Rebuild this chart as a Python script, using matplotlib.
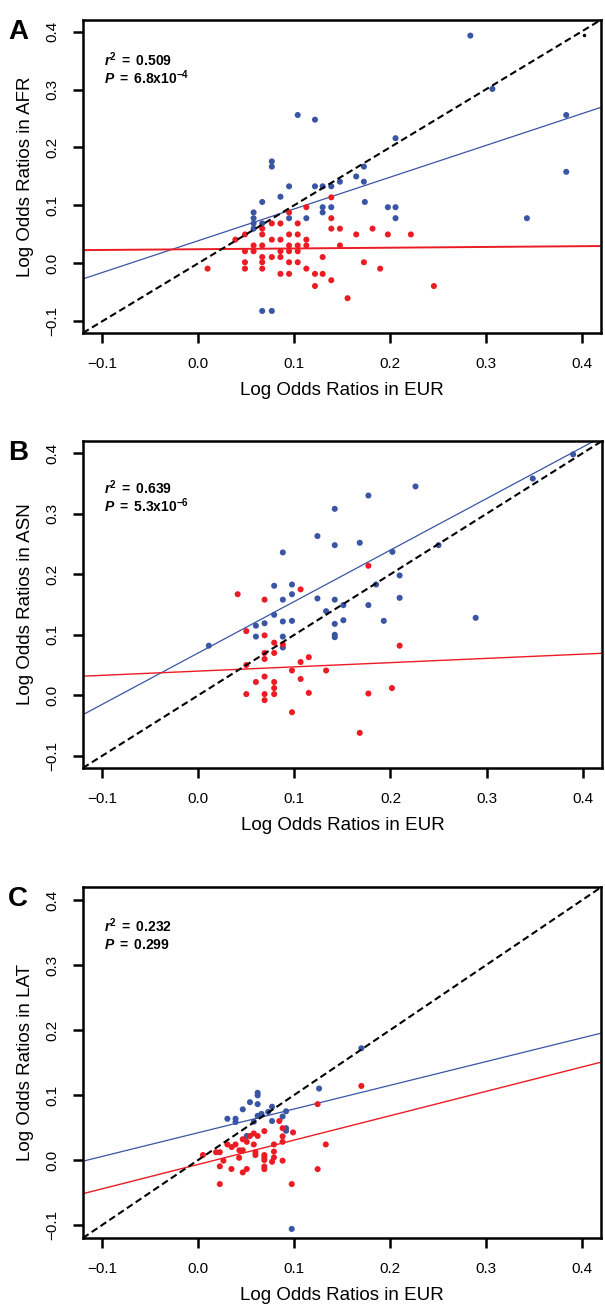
import matplotlib
matplotlib.use("Agg")
import matplotlib.pyplot as plt

plt.rcParams['font.family'] = ['Liberation Sans', 'DejaVu Sans']
plt.rcParams['mathtext.fontset'] = 'custom'
plt.rcParams['mathtext.rm'] = 'Liberation Sans'
plt.rcParams['mathtext.it'] = 'Liberation Sans:italic'
plt.rcParams['mathtext.bf'] = 'Liberation Sans:bold'
plt.rcParams['mathtext.bfit'] = 'Liberation Sans:italic:bold'

BLUE = '#3a55a4'
RED = '#ec1c24'

# ---- panel A : AFR vs EUR ----
a_blue_x = [0.104, 0.122, 0.206, 0.077, 0.077, 0.173, 0.165, 0.148, 0.173, 0.095, 0.122, 0.130,
            0.139, 0.086, 0.067, 0.174, 0.130, 0.139, 0.198, 0.206, 0.058, 0.130, 0.058, 0.095,
            0.113, 0.206, 0.058, 0.067, 0.058, 0.067, 0.077, 0.284, 0.307, 0.384, 0.384, 0.343]
a_blue_y = [0.256, 0.248, 0.216, 0.176, 0.167, 0.167, 0.150, 0.141, 0.141, 0.133, 0.133, 0.133,
            0.133, 0.115, 0.106, 0.106, 0.097, 0.097, 0.097, 0.097, 0.088, 0.088, 0.078, 0.078,
            0.078, 0.078, 0.069, 0.069, 0.060, -0.082, -0.082, 0.393, 0.301, 0.256, 0.158, 0.078]
a_red_x = [0.139, 0.113, 0.095, 0.139, 0.067, 0.077, 0.086, 0.104, 0.139, 0.148, 0.182, 0.049,
           0.067, 0.095, 0.104, 0.165, 0.198, 0.222, 0.039, 0.077, 0.086, 0.113, 0.058, 0.067,
           0.095, 0.104, 0.113, 0.148, 0.049, 0.058, 0.086, 0.095, 0.104, 0.067, 0.077, 0.086,
           0.130, 0.049, 0.067, 0.095, 0.104, 0.173, 0.010, 0.049, 0.067, 0.113, 0.190, 0.086,
           0.095, 0.122, 0.130, 0.139, 0.122, 0.156, 0.246]
a_red_y = [0.114, 0.097, 0.088, 0.078, 0.060, 0.069, 0.069, 0.069, 0.060, 0.060, 0.060, 0.050,
           0.050, 0.050, 0.050, 0.050, 0.050, 0.050, 0.041, 0.041, 0.041, 0.041, 0.031, 0.031,
           0.031, 0.031, 0.031, 0.031, 0.021, 0.021, 0.021, 0.021, 0.021, 0.011, 0.011, 0.011,
           0.011, 0.002, 0.002, 0.002, 0.002, 0.002, -0.009, -0.009, -0.009, -0.009, -0.009, -0.018,
           -0.018, -0.018, -0.018, -0.029, -0.039, -0.060, -0.039]
a_fit_blue = (0.039, 0.548)   # intercept, slope
a_fit_red = (0.0245, 0.013)

# ---- panel B : ASN vs EUR ----
b_blue_x = [0.226, 0.177, 0.142, 0.124, 0.142, 0.168, 0.088, 0.202, 0.250, 0.2095, 0.185, 0.079,
            0.0975, 0.0975, 0.088, 0.124, 0.142, 0.151, 0.133, 0.2095, 0.177, 0.079, 0.060, 0.069,
            0.088, 0.0975, 0.151, 0.193, 0.142, 0.142, 0.142, 0.060, 0.088, 0.088, 0.011, 0.390,
            0.348, 0.2886]
b_blue_y = [0.345, 0.330, 0.308, 0.263, 0.248, 0.252, 0.236, 0.237, 0.248, 0.198, 0.183, 0.181,
            0.183, 0.167, 0.158, 0.160, 0.158, 0.149, 0.139, 0.161, 0.149, 0.133, 0.115, 0.119,
            0.122, 0.123, 0.124, 0.123, 0.118, 0.100, 0.096, 0.097, 0.097, 0.079, 0.082, 0.398,
            0.358, 0.128]
b_red_x = [0.177, 0.1065, 0.041, 0.069, 0.050, 0.069, 0.079, 0.088, 0.2095, 0.069, 0.079, 0.069,
           0.050, 0.1065, 0.115, 0.0975, 0.133, 0.069, 0.1065, 0.060, 0.079, 0.079, 0.2015, 0.050,
           0.069, 0.079, 0.115, 0.177, 0.069, 0.0975, 0.168]
b_red_y = [0.214, 0.175, 0.167, 0.158, 0.106, 0.099, 0.087, 0.084, 0.082, 0.070, 0.070, 0.060,
           0.050, 0.055, 0.063, 0.041, 0.041, 0.031, 0.027, 0.022, 0.022, 0.012, 0.012, 0.002,
           0.002, 0.002, 0.004, 0.003, -0.008, -0.028, -0.062]
b_fit_blue = (0.070, 0.850)
b_fit_red = (0.040, 0.070)

# ---- panel C : LAT vs EUR ----
c_blue_x = [0.170, 0.126, 0.062, 0.062, 0.054, 0.062, 0.077, 0.0465, 0.073, 0.0916, 0.066, 0.062,
            0.088, 0.0305, 0.039, 0.039, 0.058, 0.077, 0.0916, 0.0916, 0.0507, 0.0975]
c_blue_y = [0.172, 0.110, 0.1035, 0.0995, 0.089, 0.086, 0.082, 0.078, 0.074, 0.075, 0.071, 0.068,
            0.067, 0.0635, 0.0635, 0.0585, 0.059, 0.060, 0.049, 0.045, 0.037, -0.106]
c_red_x = [0.170, 0.1245, 0.0846, 0.088, 0.0989, 0.069, 0.058, 0.062, 0.054, 0.0465, 0.0507, 0.088,
           0.0305, 0.035, 0.039, 0.058, 0.079, 0.088, 0.133, 0.043, 0.0465, 0.005, 0.0187, 0.0226,
           0.0597, 0.0597, 0.069, 0.069, 0.069, 0.079, 0.079, 0.0427, 0.0264, 0.088, 0.0226, 0.0347,
           0.0507, 0.0465, 0.069, 0.069, 0.077, 0.1245, 0.0226, 0.0975]
c_red_y = [0.114, 0.086, 0.060, 0.049, 0.0425, 0.0445, 0.041, 0.037, 0.037, 0.032, 0.028, 0.0365,
           0.024, 0.020, 0.024, 0.024, 0.024, 0.028, 0.024, 0.015, 0.015, 0.0077, 0.012, 0.012,
           0.012, 0.0077, 0.0077, 0.004, 0.0, 0.013, 0.004, 0.0035, -0.001, -0.001, -0.0097, -0.0138,
           -0.0138, -0.019, -0.010, -0.014, -0.0026, -0.014, -0.037, -0.037]
c_fit_blue = (0.042, 0.365)
c_fit_red = (-0.0068, 0.375)

ticks = [-0.1, 0.0, 0.1, 0.2, 0.3, 0.4]
lim = (-0.12, 0.42)

panels = [
    ('A', 'AFR', a_blue_x, a_blue_y, a_red_x, a_red_y, a_fit_blue, a_fit_red,
     r'$\mathbfit{r}^{\mathbf{2}}\mathbf{\ =\ 0.509}$', r'$\mathbfit{P}\mathbf{\ =\ 6.8x10^{-4}}$',
     [0.137, 0.7464, 0.856, 0.2384], (0.340, 0.309), 1.4),
    ('B', 'ASN', b_blue_x, b_blue_y, b_red_x, b_red_y, b_fit_blue, b_fit_red,
     r'$\mathbfit{r}^{\mathbf{2}}\mathbf{\ =\ 0.639}$', r'$\mathbfit{P}\mathbf{\ =\ 5.3x10^{-6}}$',
     [0.137, 0.4151, 0.858, 0.2490], (0.332, 0.303), 1.0),
    ('C', 'LAT', c_blue_x, c_blue_y, c_red_x, c_red_y, c_fit_blue, c_fit_red,
     r'$\mathbfit{r}^{\mathbf{2}}\mathbf{\ =\ 0.232}$', r'$\mathbfit{P}\mathbf{\ =\ 0.299}$',
     [0.137, 0.0571, 0.857, 0.2673], (0.351, 0.325), 1.0),
]

fig = plt.figure(figsize=(6.05, 13.13), dpi=100)

for (letter, pop, bx, by, rx, ry, fb, fr, txt1, txt2, pos, ty, red_lw) in panels:
    ax = fig.add_axes(pos)
    ax.set_xlim(lim)
    ax.set_ylim(lim)

    ax.scatter(bx, by, s=19, color=BLUE, edgecolors='none', zorder=3)
    ax.scatter(rx, ry, s=19, color=RED, edgecolors='none', zorder=3)

    ax.axline((0, 0), slope=1, color='black', lw=1.5, dashes=(3.3, 1.8), zorder=4)
    ax.axline((0, fb[0]), slope=fb[1], color=BLUE, lw=0.9, zorder=2)
    ax.axline((0, fr[0]), slope=fr[1], color=RED, lw=red_lw, zorder=2)

    ax.set_xticks(ticks)
    ax.set_yticks(ticks)
    ax.set_xticklabels(['%.1f' % t if t != -0.1 else '\u22120.1' for t in ticks])
    ax.set_yticklabels(['%.1f' % t if t != -0.1 else '\u22120.1' for t in ticks],
                       rotation=90, va='center')
    ax.tick_params(direction='out', length=7, width=1.8, labelsize=11, pad=10)
    for sp in ax.spines.values():
        sp.set_linewidth(1.8)

    ax.set_xlabel('Log Odds Ratios in EUR', fontsize=13.5, labelpad=8)
    ax.set_ylabel('Log Odds Ratios in ' + pop, fontsize=13.5, labelpad=8)

    ax.text(-0.098, ty[0], txt1, fontsize=10, va='baseline')
    ax.text(-0.098, ty[1], txt2, fontsize=10, va='baseline')

    if letter == 'A':
        ax.plot([0.402], [0.394], 'o', color='black', ms=1.5, zorder=5)

    top = pos[1] + pos[3]
    fig.text(0.013, top + 0.001, letter, fontsize=20, fontweight='bold', va='top', ha='left')

fig.savefig('out.png', dpi=100)
